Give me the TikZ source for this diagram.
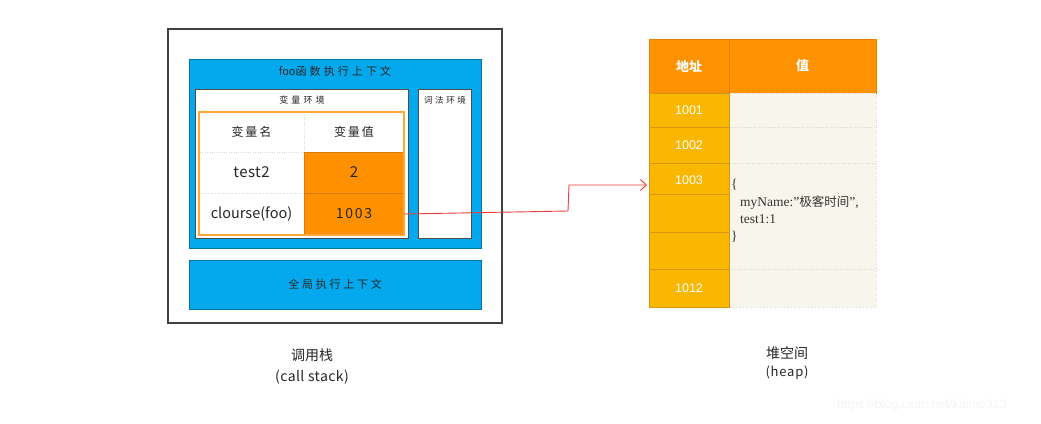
\documentclass[tikz,border=0pt]{standalone}
\usepackage{fontspec}
\setmainfont{Liberation Serif}
\setsansfont{Liberation Sans}
\newfontfamily\cjk{Noto Sans CJK SC}
\usetikzlibrary{arrows.meta}
\definecolor{blueC}{RGB}{3,169,236}
\definecolor{orC}{RGB}{255,145,0}
\definecolor{hdC}{RGB}{255,146,0}
\definecolor{adC}{RGB}{250,183,0}
\definecolor{adL}{RGB}{215,150,20}
\definecolor{vaC}{RGB}{248,246,236}
\definecolor{arrC}{RGB}{240,60,60}
\begin{document}
\begin{tikzpicture}[x=1pt,y=-1pt,
  rect/.style={anchor=north west,inner sep=0pt,outer sep=0pt,rectangle},
  stackbox/.style={rect,draw=black!75,line width=1.1pt,fill=white},
  bluebox/.style={rect,fill=blueC,draw=blueC!70!black,line width=0.4pt},
  whitebox/.style={rect,fill=white,draw=black!70,line width=0.4pt},
  tcell/.style={rect,fill=white,draw=black!15,dotted,line width=0.4pt},
  ocell/.style={rect,fill=orC,draw=orC!85!black,line width=0.3pt},
  hand/.style={font=\cjk\fontsize{#1}{#1}\selectfont,text=black!85},
  sp/.style n args={2}{font=\cjk\fontsize{#1}{#1}\selectfont\addfontfeature{LetterSpace=#2},text=black!85},
  hhead/.style={rect,fill=hdC,draw=hdC!90!black,line width=0.3pt},
  haddr/.style={rect,fill=adC,draw=adL,line width=0.5pt},
  hval/.style={rect,fill=vaC,draw=black!15,dotted,line width=0.4pt},
  wnum/.style={text=white,font=\sffamily\fontsize{12.5}{12.5}\selectfont},
  arrow/.style={draw=arrC,line width=0.9pt,-{Straight Barb[length=6pt,width=11pt]}}
]
\useasboundingbox[fill=white] (0,0) rectangle (1041,423);

% call stack
\node[stackbox,minimum width=334pt,minimum height=294pt] (stack) at (168,29) {};
\node[bluebox,minimum width=292pt,minimum height=189pt] (foo) at (189,59) {};
\node[sp={11}{28}] (footitle) at (335,71) {{\addfontfeature{LetterSpace=0}foo}函数执行上下文};
\node[whitebox,minimum width=213pt,minimum height=149pt] (varenv) at (195,89) {};
\node[sp={9}{35}] (vartitle) at (302,100) {变量环境};
\node[whitebox,minimum width=53pt,minimum height=149pt] (lexenv) at (418,89) {};
\node[sp={8.5}{30}] (lextitle) at (445,100) {词法环境};

\node[tcell,minimum width=105pt,minimum height=40pt] (h1) at (199,112) {};
\node[tcell,minimum width=100pt,minimum height=40pt] (h2) at (304,112) {};
\node[tcell,minimum width=105pt,minimum height=41pt] (n1) at (199,152) {};
\node[ocell,minimum width=100pt,minimum height=41pt] (v1) at (304,152) {};
\node[tcell,minimum width=105pt,minimum height=42pt] (n2) at (199,193) {};
\node[ocell,minimum width=100pt,minimum height=42pt] (v2) at (304,193) {};
\draw[orC!80!white,line width=1.6pt] (h1.north west) rectangle (v2.south east);
\node[sp={12}{15}] at (h1.center) {变量名};
\node[sp={12}{15}] at (h2.center) {变量值};
\node[sp={15}{3}] at (n1.center) {test2};
\node[hand=15] at (v1.center) {2};
\node[sp={14.5}{0}] at (n2.center) {clourse(foo)};
\node[sp={14}{12}] at (v2.center) {1003};

\node[bluebox,minimum width=292pt,minimum height=49pt] (global) at (189,260) {};
\node[sp={11}{25}] at (global.center) {全局执行上下文};

\node[hand=14] (lbl1) at (312,355) {调用栈};
\node[sp={14}{3}] (lbl1b) at (312,377) {(call stack)};

% heap
\node[hhead,minimum width=80pt,minimum height=54pt] (ha) at (649,39) {};
\node[hhead,minimum width=147pt,minimum height=54pt] (hv) at (729,39) {};
\node[text=white,font=\cjk\bfseries\fontsize{13}{13}\selectfont] at (ha.center) {地址};
\node[text=white,font=\cjk\bfseries\fontsize{13}{13}\selectfont] at (hv.center) {值};

\node[hval,minimum width=147pt,minimum height=34pt] (w1) at (729,93) {};
\node[hval,minimum width=147pt,minimum height=36pt] (w2) at (729,127) {};
\node[hval,minimum width=147pt,minimum height=106pt] (w3) at (729,163) {};
\node[hval,minimum width=147pt,minimum height=38pt] (w4) at (729,269) {};

\node[haddr,minimum width=80pt,minimum height=34pt] (a1) at (649,93) {};
\node[haddr,minimum width=80pt,minimum height=36pt] (a2) at (649,127) {};
\node[haddr,minimum width=80pt,minimum height=31pt] (a3) at (649,163) {};
\node[haddr,minimum width=80pt,minimum height=38pt] (a4) at (649,194) {};
\node[haddr,minimum width=80pt,minimum height=37pt] (a5) at (649,232) {};
\node[haddr,minimum width=80pt,minimum height=38pt] (a6) at (649,269) {};
\node[wnum] at (689,110) {1001};
\node[wnum] at (689,145) {1002};
\node[wnum] at (689,180) {1003};
\node[wnum] at (689,288) {1012};

\node[anchor=west,align=left,inner sep=2pt,text=black!80,
      font=\fontsize{13.5}{17.3}\selectfont] (obj) at (729,211)
  {\{\\\hspace*{9pt}myName:"{\cjk\fontsize{12.5}{17.3}\selectfont 极客时间}",\\\hspace*{9pt}test1:1\\\}};

\node[hand=14] (lbl2) at (787,353) {堆空间};
\node[sp={13}{6}] (lbl2b) at (787,373) {(heap)};

% arrow
\coordinate (k1) at (568,211);
\coordinate (k2) at (569,185);
\coordinate (tip) at (647,185);
\draw[arrow] (v2.east) -- (k1) -- (k2) -- (tip);

% watermark
\node[text=black!4,font=\sffamily\fontsize{12.5}{12.5}\selectfont] (wm) at (922,405) {https://blog.csdn.net/kaimo313};
\end{tikzpicture}
\end{document}
